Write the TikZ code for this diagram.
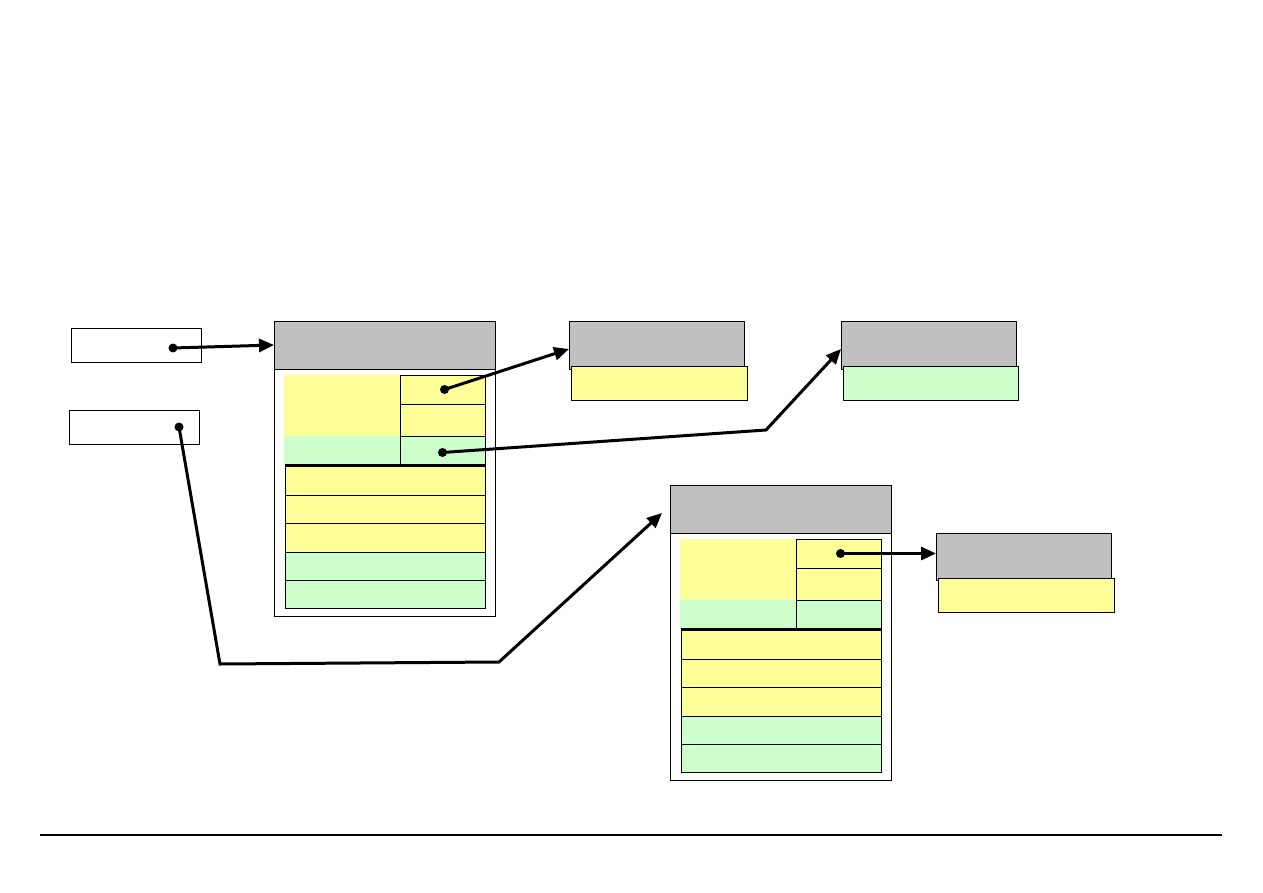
\documentclass[tikz,border=0pt]{standalone}
\usepackage{tikz}
\usepackage{xcolor}
\usetikzlibrary{arrows.meta}

\definecolor{hdgray}{HTML}{C0C0C0}
\definecolor{yelfill}{HTML}{FFFF99}
\definecolor{grnfill}{HTML}{CCFFCC}

\begin{document}
\begin{tikzpicture}[
	x=1pt, y=-1pt,
	blk/.style={
		rectangle, anchor=north west, inner sep=0pt, outer sep=0pt,
		line width=1pt
	},
	ptr/.style={blk, draw, fill=white, minimum width=130pt, minimum height=34pt},
	outer/.style={blk, draw, fill=white, minimum width=221pt, minimum height=295pt},
	hd/.style={blk, draw, fill=hdgray, minimum height=48pt},
	yel/.style={blk, fill=yelfill},
	grn/.style={blk, fill=grnfill},
	dot/.style={circle, fill, inner sep=0pt, minimum size=9pt},
	link/.style={-{Triangle[length=15pt,width=13pt]}, line width=3pt},
	]
	
	\useasboundingbox (0,0) rectangle (1263,893);
	
	% Pointer boxes (left)
	\node[ptr] (ptrA) at (71,328) {};
	\node[ptr] (ptrB) at (69,410) {};
	\node[dot] (ptrA-p) at (173,348) {};
	\node[dot] (ptrB-p) at (179,427) {};
	
	% Big records: header, upper block, lower rows
	\foreach \n/\ox/\oy in {recA/274/321, recB/670/485} {
		\node[outer] (\n) at (\ox,\oy) {};
		\node[hd, minimum width=221pt] (\n-hd) at (\ox,\oy) {};
		\node[yel, minimum width=116pt, minimum height=61pt] (\n-ul) at (\ox+10,\oy+54) {};
		\node[grn, minimum width=116pt, minimum height=29pt] (\n-ll) at (\ox+10,\oy+115) {};
		\node[yel, draw, minimum width=85pt, minimum height=29pt] (\n-c1) at (\ox+126,\oy+54) {};
		\node[yel, draw, minimum width=85pt, minimum height=32pt] (\n-c2) at (\ox+126,\oy+83) {};
		\node[grn, draw, minimum width=85pt, minimum height=29pt] (\n-c3) at (\ox+126,\oy+115) {};
		\foreach \dy/\h/\c in {144/30/yel, 174/28/yel, 202/29/yel, 231/28/grn, 259/28/grn}
			\node[\c, draw, minimum width=200pt, minimum height=\h pt] (\n-r\dy) at (\ox+11,\oy+\dy) {};
		\draw[line width=3pt] (\n-r144.north west) -- (\n-r144.north east);
		\node[dot] (\n-p1) at ([xshift=2pt]\n-c1.center) {};
	}
	\node[dot] (recA-p3) at ([yshift=-2pt]recA-c3.center) {};
	
	% Small records (right)
	\node[hd, minimum width=175pt] (recC-hd) at (569,321) {};
	\node[yel, draw, minimum width=176pt, minimum height=34pt] (recC-v) at (571,366) {};
	\node[hd, minimum width=175pt] (recD-hd) at (841,321) {};
	\node[grn, draw, minimum width=175pt, minimum height=34pt] (recD-v) at (843,366) {};
	\node[hd, minimum width=175pt, minimum height=47pt] (recE-hd) at (936,533) {};
	\node[yel, draw, minimum width=176pt, minimum height=34pt] (recE-v) at (938,578) {};
	
	% Bend points
	\coordinate (bendD)  at (766,430);
	\coordinate (bendB1) at (220,664);
	\coordinate (bendB2) at (499,662);
	
	% Links
	\draw[link] (ptrA-p.center) -- (recA-hd.west);
	\draw[link] (recA-p1.center) -- ([yshift=-4pt]recC-hd.west);
	\draw[link] (recA-p3.center) -- (bendD) -- ([yshift=-4pt]recD-hd.west);
	\draw[link] (ptrB-p.center) -- (bendB1) -- (bendB2) -- ([xshift=-8pt,yshift=-4pt]recB-hd.west);
	\draw[link] (recB-p1.center) -- (recB-p1.center -| recE-hd.west);
	
	% Footer rule
	\draw[line width=1.2pt] (40,835) -- (1222,835);
	
\end{tikzpicture}
\end{document}
